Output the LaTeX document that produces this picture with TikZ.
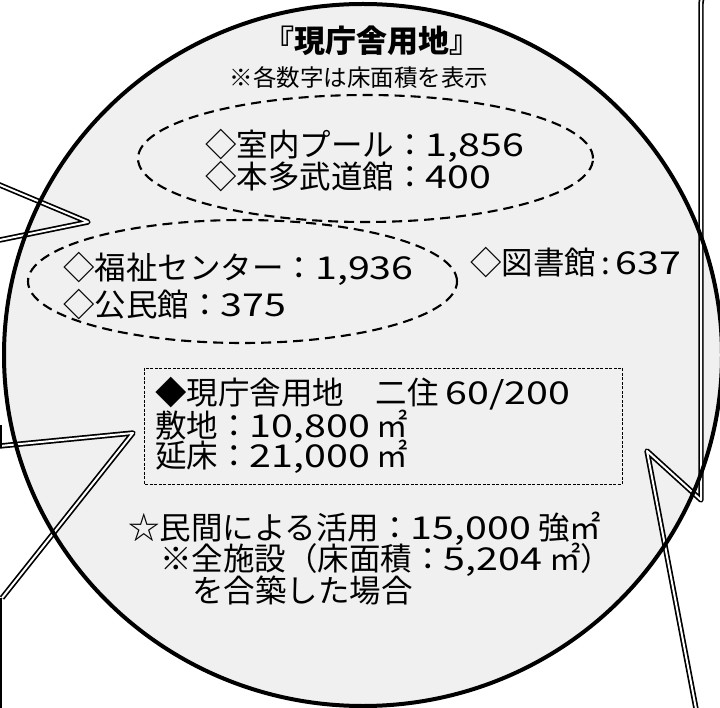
\documentclass[tikz,border=0pt]{standalone}
\usepackage{fontspec}
\setmainfont{Noto Sans CJK JP}
\newfontfamily\digfont{Noto Sans CJK JP}[FakeStretch=1.25]
\usepackage{tikz}

\newcommand{\mainsz}{\fontsize{31.5}{33}\selectfont}
\newcommand{\dig}[1]{{\digfont #1}}

\begin{document}
\begin{tikzpicture}[x=1pt, y=-1pt,
  txt/.style={anchor=base west, inner sep=0pt, font=\mainsz},
  callout/.style={double, double distance=2pt, line width=1.7pt, line join=round},
  dashring/.style={line width=2.1pt, dash pattern=on 10pt off 6pt}]
\useasboundingbox (0,0) rectangle (720,708);

% big circle: fill first, callouts, then the rim
\fill[gray!12] (363,355) ellipse [x radius=359pt, y radius=351pt];

\coordinate (aTop) at (-5,183);
\coordinate (aTip) at (88,222);
\coordinate (aBot) at (-5,241);
\draw[callout] (aTop) -- (aTip) -- (aBot);

\coordinate (bTop) at (0,446);
\coordinate (bTip) at (133,433);
\coordinate (bBot) at (2,598);
\draw[callout] (bTop) -- (bTip) -- (bBot);
\draw[line width=1.8pt] (1,425) -- (1,448);
\draw[line width=1.8pt] (1,598) -- (1,712);

\coordinate (cBot) at (701,500);
\coordinate (cTip) at (647,451);
\coordinate (cEnd) at (697,714);
\draw[callout] (760,-12) -- (717,-12) arc[start angle=90, end angle=180, radius=16pt]
  -- (cBot) -- (cTip) -- (cEnd);

\draw[line width=4pt] (363,355) ellipse [x radius=359pt, y radius=351pt];

% groups
\draw[dashring] (365.5,158.5) ellipse [x radius=227.5pt, y radius=63.5pt];
\draw[dashring] (242.5,281.5) ellipse [x radius=214.5pt, y radius=61.5pt];
\draw[line width=0.8pt, dash pattern=on 3pt off 1.5pt] (144,368) rectangle (622,484);

\node[font=\fontsize{31}{33}\selectfont\bfseries, anchor=base, inner sep=0pt] (title) at (372,53) {『現庁舎用地』};
\node[font=\fontsize{23.5}{26}\selectfont, anchor=base, inner sep=0pt] (note) at (359,87) {※各数字は床面積を表示};
\node[txt] (pool) at (205,157) {◇室内プール：\dig{1,856}};
\node[txt] (budo) at (205,189) {◇本多武道館：\dig{400}};
\node[txt] (fukushi) at (63,280) {◇福祉センター：\dig{1,936}};
\node[txt] (kominkan) at (63,317) {◇公民館：\dig{375}};
\node[txt] (tosho) at (470,275) {◇図書館\,:\,\dig{637}};
\node[txt] (site) at (155,404) {◆現庁舎用地　二住 \dig{60/200}};
\node[txt] (area) at (155,437) {敷地：\dig{10,800} ㎡};
\node[txt] (floor) at (155,467) {延床：\dig{21,000} ㎡};
\node[txt] (use) at (128,539) {☆民間による活用：\dig{15,000} 強㎡};
\node[txt] (all) at (160,570) {※全施設（床面積：\dig{5,204} ㎡）};
\node[txt] (joint) at (192,602) {を合築した場合};
\end{tikzpicture}
\end{document}
